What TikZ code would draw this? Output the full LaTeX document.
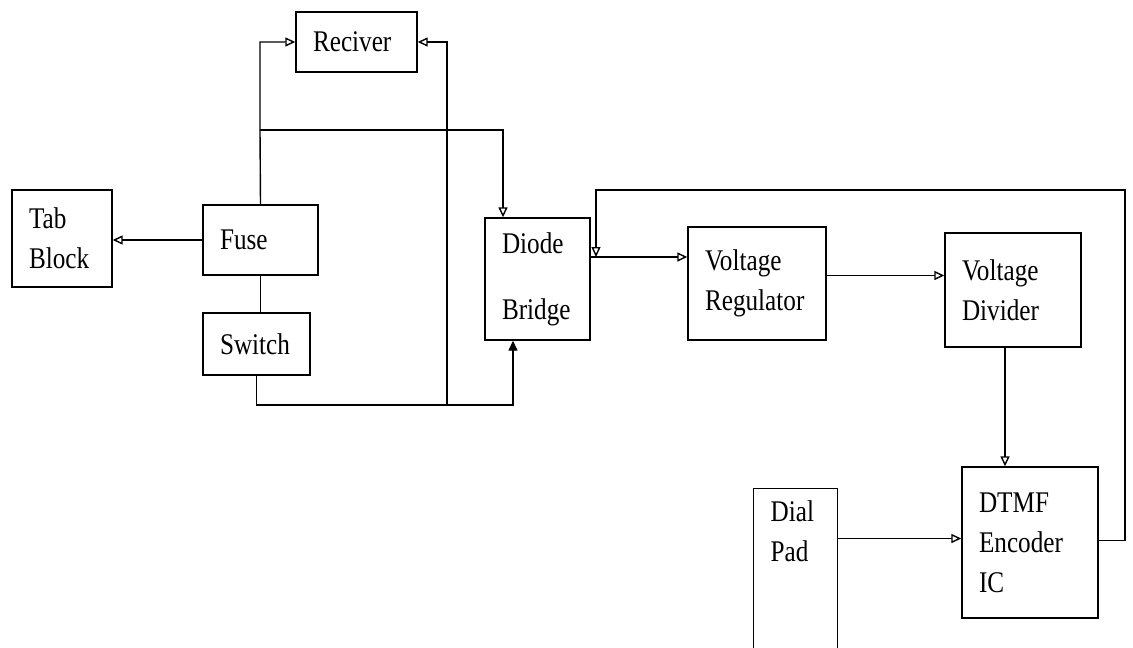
\documentclass[tikz,border=0pt]{standalone}
\usepackage{fontspec}
\setmainfont{Liberation Serif}[FakeStretch=0.84]
\usetikzlibrary{arrows.meta,calc}

\begin{document}
\begin{tikzpicture}[
    x=1pt, y=-1pt,
    blk/.style={draw, line width=1.4pt, align=left, inner xsep=17pt,
                font=\fontsize{30}{40}\selectfont},
    wire/.style={line width=1.4pt},
    arw/.style={wire, -{Triangle[open, length=10pt, width=9pt]}},
  ]
  \clip (0,0) rectangle (1133,648);

  % blocks
  \node[blk, text width=87pt, minimum height=60pt] (rec) at (356.5,42) {Reciver};
  \node[blk, text width=66pt, minimum height=97pt] (tab) at (62,238.5) {Tab\\Block};
  \node[blk, text width=81pt, minimum height=70pt] (fuse) at (260.5,240) {Fuse};
  \node[blk, text width=73pt, minimum height=62pt] (switch) at (256.5,344) {Switch};
  \node[blk, text width=71pt, minimum height=122pt] (diode) at (537.5,279) {Diode\\[26pt]Bridge};
  \node[blk, text width=104pt, minimum height=113pt] (reg) at (757,283.5) {Voltage\\Regulator};
  \node[blk, text width=102pt, minimum height=114pt] (div) at (1013,290) {Voltage\\Divider};
  \node[blk, text width=102pt, minimum height=151pt] (dtmf) at (1030,542.5) {DTMF\\Encoder\\IC};
  \node[blk, text width=50pt, anchor=north west, inner ysep=12pt, text depth=150pt] (dial) at (753,488) {Dial\\Pad};

  % junctions
  \coordinate (jn) at (260,130);
  \coordinate (dtop) at (503,130);
  \coordinate (bus) at (513,405);
  \coordinate (rj) at (447,405);
  \coordinate (fbr) at (1125,190);
  \coordinate (fbl) at (596,190);

  % connectors
  \draw[arw] (fuse.west) -- (fuse.west -| tab.east);
  \draw[wire] (fuse.south) -- (fuse.south |- switch.north);
  \draw[arw] (fuse.north) -- (jn) |- (rec.west);
  \draw[arw] (jn) -- (dtop) -- (dtop |- diode.north);
  \draw[wire, -{Triangle[length=10pt, width=9pt]}] (switch.south) |- (bus) -- (bus |- diode.south);
  \draw[arw] (rj) |- (rec.east);
  \draw[arw] ([yshift=22pt]diode.east) -- ([yshift=22pt]diode.east -| reg.west);
  \draw[arw] ([yshift=8pt]reg.east) -- ([yshift=8pt]reg.east -| div.west);
  \draw[arw] ([xshift=-8pt]div.south) -- ([xshift=-8pt]div.south |- dtmf.north);
  \draw[arw] ([yshift=4pt]dtmf.west -| dial.east) -- ([yshift=4pt]dtmf.west);
  \draw[arw] ([yshift=2pt]dtmf.east) -| (fbr) -- (fbl) -- ([yshift=22pt]diode.east -| fbl);
\end{tikzpicture}
\end{document}
